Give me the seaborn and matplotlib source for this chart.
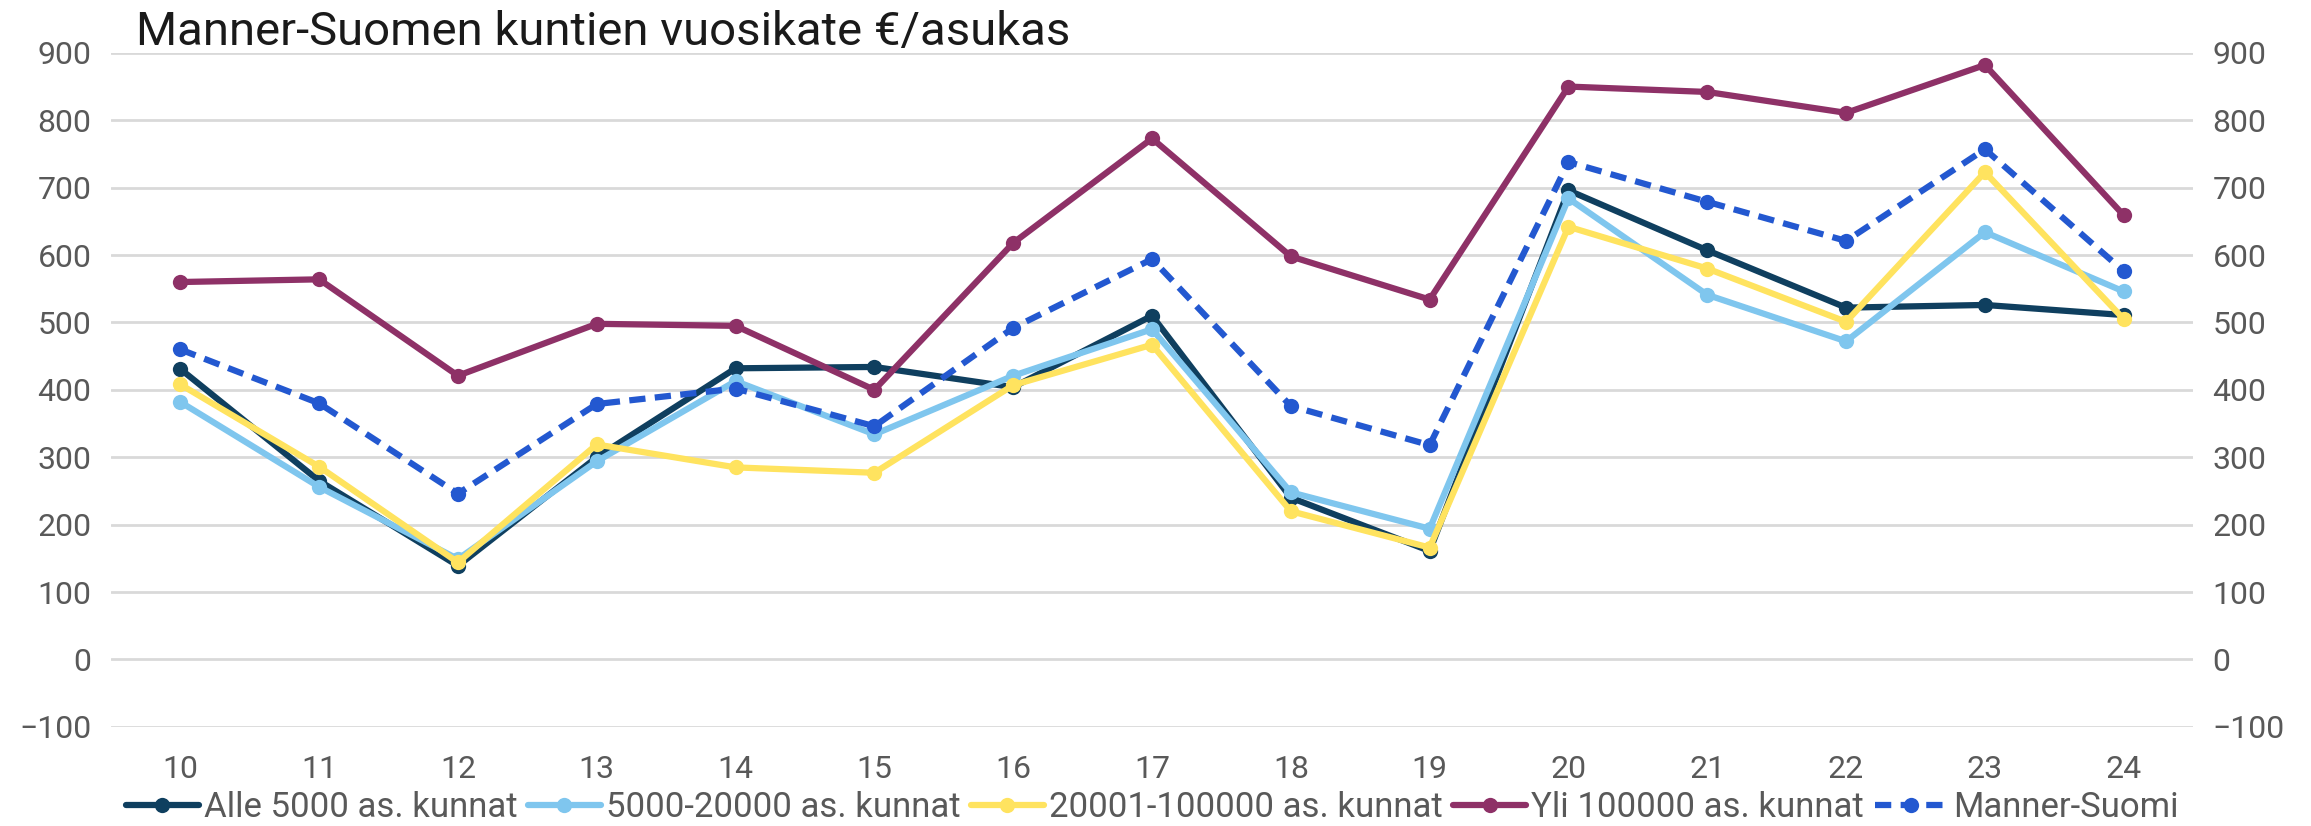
import seaborn as sns
from matplotlib import pyplot as plt
import pandas as pd

years = list(range(10, 25))
series_names = ['Alle 5000 as. kunnat', '5000-20000 as. kunnat', '20001-100000 as. kunnat',
                'Yli 100000 as. kunnat', 'Manner-Suomi']

alle_5000 = [431, 265, 139, 300, 432, 434, 404, 510, 240, 161, 696, 607, 522, 526, 511]
v5000_20000 = [382, 256, 149, 294, 413, 334, 421, 490, 248, 194, 684, 541, 472, 634, 546]
v20001_100000 = [408, 286, 144, 319, 285, 277, 407, 467, 220, 166, 642, 580, 501, 723, 505]
yli_100000 = [560, 564, 421, 498, 495, 400, 618, 773, 598, 534, 850, 842, 811, 882, 659]
manner_suomi = [460, 380, 246, 379, 402, 346, 492, 594, 376, 318, 738, 679, 621, 757, 576]

colors = ['#0f3f5f', '#7fc6ee', '#ffe35f', '#8e3167', '#2358d0']

df = pd.concat([
    pd.DataFrame({'vuosi': years, 'arvo': vals, 'sarja': name})
    for name, vals in zip(series_names,
                          [alle_5000, v5000_20000, v20001_100000, yli_100000, manner_suomi])
])

sns.set_theme(style='white')
plt.rcParams['font.family'] = ['Roboto', 'DejaVu Sans']

fig = plt.figure(figsize=(23.11, 8.26), dpi=100)
ax = fig.add_axes([0.048, 0.12, 0.901, 0.816])

sns.lineplot(data=df, x='vuosi', y='arvo', hue='sarja', style='sarja',
             hue_order=series_names, style_order=series_names,
             palette=dict(zip(series_names, colors)),
             dashes={n: ((2.6, 1.5) if n == 'Manner-Suomi' else '') for n in series_names},
             markers={n: 'o' for n in series_names},
             markersize=11, markeredgewidth=0, linewidth=4.5, ax=ax, legend=True)

ax.set_xlim(9.5, 24.5)
ax.set_ylim(-100, 900)
ax.set_xticks(years)
ax.set_xticklabels([str(y) for y in years])
ax.set_yticks(range(-100, 901, 100))
ax.grid(axis='y', color='#d9d9d9', linewidth=2)
ax.set_axisbelow(True)
ax.set_xlabel('')
ax.set_ylabel('')
for s in ax.spines.values():
    s.set_visible(False)
ax.tick_params(axis='x', length=0, labelsize=23, labelcolor='#595959', pad=20)
ax.tick_params(axis='y', length=0, labelsize=23, labelcolor='#595959', pad=14)

ax2 = ax.twinx()
ax2.set_ylim(-100, 900)
ax2.set_yticks(range(-100, 901, 100))
for s in ax2.spines.values():
    s.set_visible(False)
ax2.tick_params(axis='y', length=0, labelsize=23, labelcolor='#595959', pad=14)

handles, labels = ax.get_legend_handles_labels()
ax.legend(handles, labels, loc='center', bbox_to_anchor=(0.5, -0.12), ncol=5,
          frameon=False, fontsize=25, labelcolor='#595959', handlelength=2.1,
          handletextpad=0.15, columnspacing=0.3, borderaxespad=0)

fig.text(0.059, 0.935, 'Manner-Suomen kuntien vuosikate €/asukas', fontsize=34,
         color='#1a1a1a', va='bottom')

fig.savefig('out.png', dpi=100)
